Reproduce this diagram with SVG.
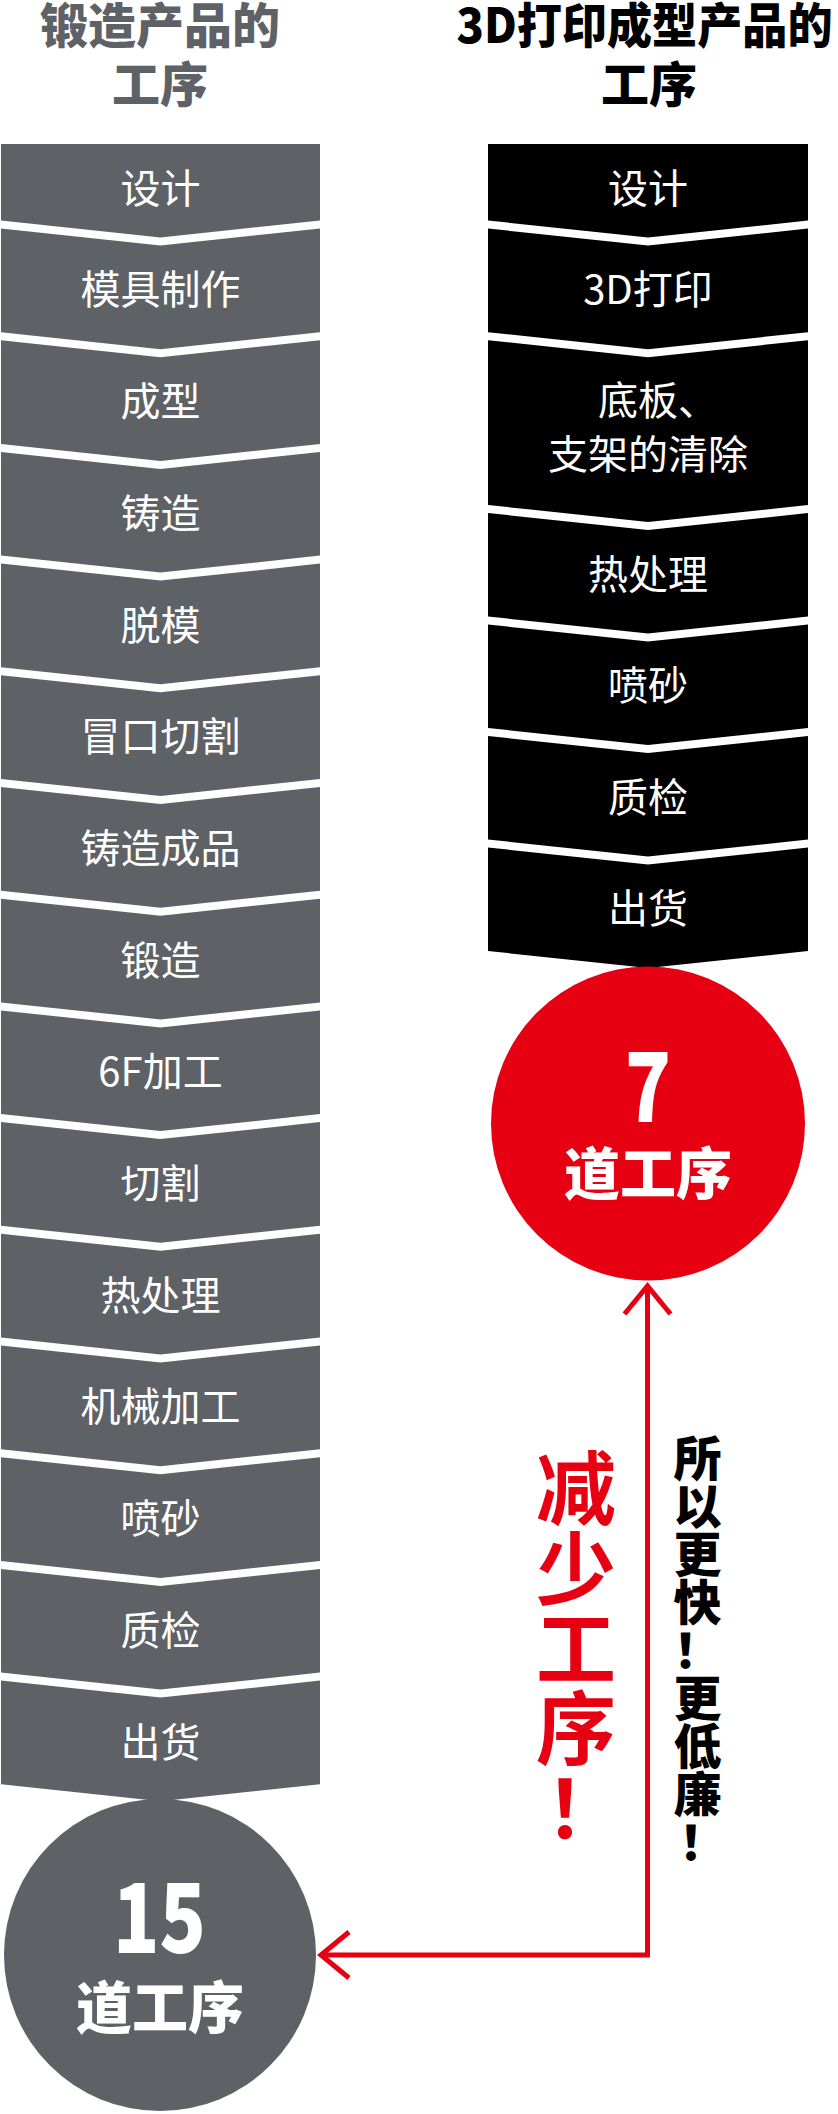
<svg xmlns="http://www.w3.org/2000/svg" width="838" height="2114" viewBox="0 0 838 2114">
<style>
.g{fill:#5e6267}
.k{fill:#000}
.t{font-family:"Noto Sans CJK SC","Noto Sans",sans-serif;text-anchor:middle}
.lbl{font-size:40px;font-weight:400;fill:#fff}
.ttl{font-size:48px;font-weight:900}
.big{font-weight:900;fill:#fff}
.red{fill:#e60012}
</style>
<defs>
<marker id="arr" markerUnits="userSpaceOnUse" viewBox="-40 -30 50 60" markerWidth="50" markerHeight="60" refX="0" refY="0" orient="auto-start-reverse" overflow="visible">
<path d="M-28,-23 L0,0 L-28,23" fill="none" stroke="#e60012" stroke-width="5"/>
</marker>
</defs>
<rect width="838" height="2114" fill="#fff"/>

<g id="title-left">
<text class="t ttl" x="160" y="43" fill="#5e6267">锻造产品的</text>
<text class="t ttl" x="160" y="102" fill="#5e6267">工序</text>
</g>
<g id="title-right">
<text class="t ttl" x="644.5" y="43" fill="#000" textLength="376" lengthAdjust="spacingAndGlyphs">3D打印成型产品的</text>
<text class="t ttl" x="649" y="102" fill="#000">工序</text>
</g>

<g id="left-steps">
<g id="L1"><polygon class="g" points="1,144 320,144 320,220.5 160.5,237.5 1,220.5"/><text class="t lbl" x="160.5" y="203">设计</text></g>
<g id="L2"><polygon class="g" points="1,228.5 160.5,245.5 320,228.5 320,332.2 160.5,349.2 1,332.2"/><text class="t lbl" x="160.5" y="304.4">模具制作</text></g>
<g id="L3"><polygon class="g" points="1,340.2 160.5,357.2 320,340.2 320,443.9 160.5,460.9 1,443.9"/><text class="t lbl" x="160.5" y="416">成型</text></g>
<g id="L4"><polygon class="g" points="1,451.9 160.5,468.9 320,451.9 320,555.6 160.5,572.6 1,555.6"/><text class="t lbl" x="160.5" y="527.8">铸造</text></g>
<g id="L5"><polygon class="g" points="1,563.6 160.5,580.6 320,563.6 320,667.3 160.5,684.3 1,667.3"/><text class="t lbl" x="160.5" y="639.5">脱模</text></g>
<g id="L6"><polygon class="g" points="1,675.3 160.5,692.3 320,675.3 320,779 160.5,796 1,779"/><text class="t lbl" x="160.5" y="751.2">冒口切割</text></g>
<g id="L7"><polygon class="g" points="1,787 160.5,804 320,787 320,890.7 160.5,907.7 1,890.7"/><text class="t lbl" x="160.5" y="862.9">铸造成品</text></g>
<g id="L8"><polygon class="g" points="1,898.7 160.5,915.7 320,898.7 320,1002.4 160.5,1019.4 1,1002.4"/><text class="t lbl" x="160.5" y="974.6">锻造</text></g>
<g id="L9"><polygon class="g" points="1,1010.4 160.5,1027.4 320,1010.4 320,1114.1 160.5,1131.1 1,1114.1"/><text class="t lbl" x="160.5" y="1086.3">6F加工</text></g>
<g id="L10"><polygon class="g" points="1,1122.1 160.5,1139.1 320,1122.1 320,1225.8 160.5,1242.8 1,1225.8"/><text class="t lbl" x="160.5" y="1198">切割</text></g>
<g id="L11"><polygon class="g" points="1,1233.8 160.5,1250.8 320,1233.8 320,1337.5 160.5,1354.5 1,1337.5"/><text class="t lbl" x="160.5" y="1309.7">热处理</text></g>
<g id="L12"><polygon class="g" points="1,1345.5 160.5,1362.5 320,1345.5 320,1449.2 160.5,1466.2 1,1449.2"/><text class="t lbl" x="160.5" y="1421.4">机械加工</text></g>
<g id="L13"><polygon class="g" points="1,1457.2 160.5,1474.2 320,1457.2 320,1560.9 160.5,1577.9 1,1560.9"/><text class="t lbl" x="160.5" y="1533.1">喷砂</text></g>
<g id="L14"><polygon class="g" points="1,1568.9 160.5,1585.9 320,1568.9 320,1672.6 160.5,1689.6 1,1672.6"/><text class="t lbl" x="160.5" y="1644.8">质检</text></g>
<g id="L15"><polygon class="g" points="1,1680.6 160.5,1697.6 320,1680.6 320,1784.3 160.5,1801.3 1,1784.3"/><text class="t lbl" x="160.5" y="1756.5">出货</text></g>
</g>

<g id="right-steps">
<g id="R1"><polygon class="k" points="488,144 808,144 808,220.5 648,237.5 488,220.5"/><text class="t lbl" x="648" y="203">设计</text></g>
<g id="R2"><polygon class="k" points="488,228.5 648,245.5 808,228.5 808,332.2 648,349.2 488,332.2"/><text class="t lbl" x="648" y="304.4">3D打印</text></g>
<g id="R3"><polygon class="k" points="488,340.2 648,357.2 808,340.2 808,505 648,522 488,505"/><text class="t lbl" x="598" y="415" style="text-anchor:start">底板、</text><text class="t lbl" x="648" y="469">支架的清除</text></g>
<g id="R4"><polygon class="k" points="488,513 648,530 808,513 808,616.5 648,633.5 488,616.5"/><text class="t lbl" x="648" y="589">热处理</text></g>
<g id="R5"><polygon class="k" points="488,624.5 648,641.5 808,624.5 808,728 648,745 488,728"/><text class="t lbl" x="648" y="700.3">喷砂</text></g>
<g id="R6"><polygon class="k" points="488,736 648,753 808,736 808,839.5 648,856.5 488,839.5"/><text class="t lbl" x="648" y="811.8">质检</text></g>
<g id="R7"><polygon class="k" points="488,847.5 648,864.5 808,847.5 808,951 648,968 488,951"/><text class="t lbl" x="648" y="923.3">出货</text></g>
</g>

<g id="result-7">
<circle cx="648" cy="1123.5" r="157" fill="#e60012"/>
<text class="t big" x="648" y="1122" font-size="96" textLength="46" lengthAdjust="spacingAndGlyphs">7</text>
<text class="t big" x="648" y="1194" font-size="56">道工序</text>
</g>

<g id="result-15">
<circle cx="160" cy="1955" r="156" fill="#5e6267"/>
<text class="t big" x="159.5" y="1953" font-size="96" textLength="93" lengthAdjust="spacingAndGlyphs">15</text>
<text class="t big" x="160" y="2028" font-size="56">道工序</text>
</g>

<g id="connectors">
<path d="M647.5,1286 V1955 H321" fill="none" stroke="#e60012" stroke-width="5" marker-start="url(#arr)" marker-end="url(#arr)"/>
</g>

<g id="label-reduce">
<text class="t red" font-size="80" font-weight="700">
<tspan x="585" y="1518">减</tspan>
<tspan x="585" y="1598">少</tspan>
<tspan x="585" y="1678">工</tspan>
<tspan x="585" y="1758">序</tspan>
<tspan x="585" y="1838">！</tspan>
</text>
</g>

<g id="label-faster">
<text class="t" font-size="48" font-weight="900" fill="#000">
<tspan x="703" y="1476">所</tspan>
<tspan x="703" y="1524">以</tspan>
<tspan x="703" y="1572">更</tspan>
<tspan x="703" y="1620">快</tspan>
<tspan x="703" y="1668">！</tspan>
<tspan x="703" y="1716">更</tspan>
<tspan x="703" y="1764">低</tspan>
<tspan x="703" y="1812">廉</tspan>
<tspan x="703" y="1860">！</tspan>
</text>
</g>
</svg>
